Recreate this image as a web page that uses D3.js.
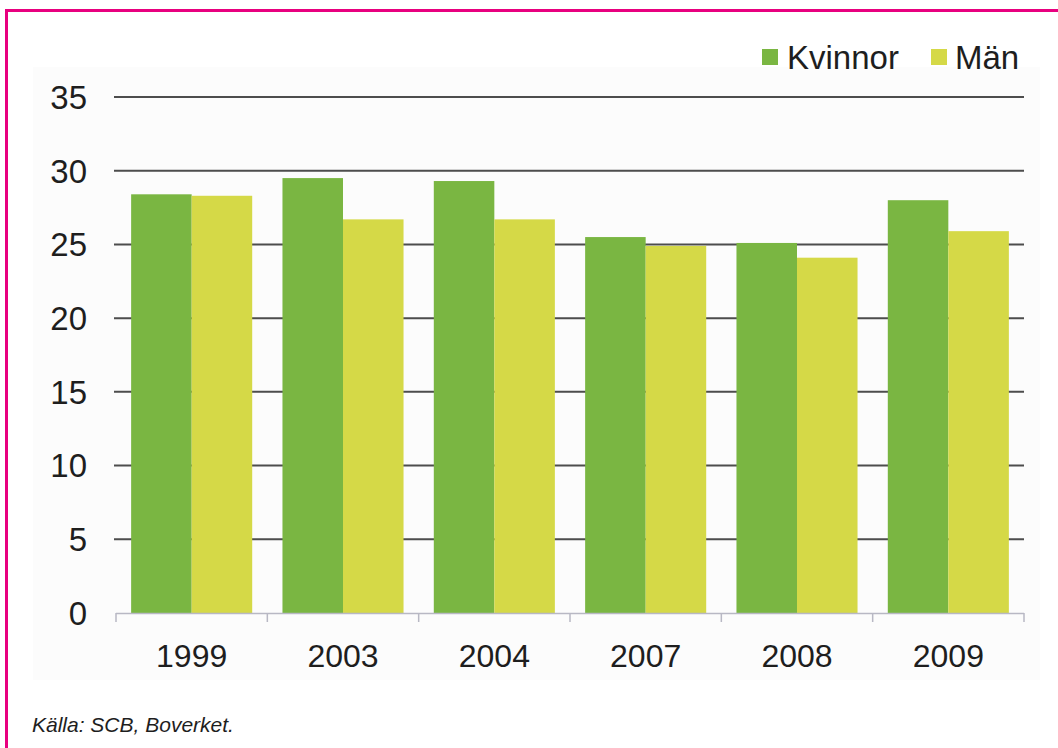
<!DOCTYPE html>
<html>
<head>
<meta charset="utf-8">
<script src="https://cdn.jsdelivr.net/npm/d3@7"></script>
<style>
  html, body { margin: 0; padding: 0; background: #ffffff; }
  svg { display: block; }
</style>
</head>
<body>
<svg id="chart" width="1058" height="748"></svg>
<script>
// Andel (%) per år, kvinnor och män
const years = ["1999", "2003", "2004", "2007", "2008", "2009"];
const kvinnor = [28.4, 29.5, 29.3, 25.5, 25.1, 28.0];
const man = [28.3, 26.7, 26.7, 24.9, 24.1, 25.9];
const seriesNames = ["Kvinnor", "Män"];
const yTicks = [0, 5, 10, 15, 20, 25, 30, 35];
const sourceText = "Källa: SCB, Boverket.";

const colors = { "Kvinnor": "#7ab642", "Män": "#d5d947" };
const font = "'Liberation Sans', Arial, sans-serif";

const svg = d3.select("#chart");

// Frame: magenta border along top and left
svg.append("line").attr("x1", 5).attr("x2", 1058).attr("y1", 10.5).attr("y2", 10.5)
  .attr("stroke", "#e8007f").attr("stroke-width", 3);
svg.append("line").attr("x1", 6.5).attr("x2", 6.5).attr("y1", 9).attr("y2", 748)
  .attr("stroke", "#e8007f").attr("stroke-width", 3);

// Faint chart panel
svg.append("rect").attr("x", 33).attr("y", 67).attr("width", 1007).attr("height", 613)
  .attr("fill", "#fcfcfc");

const plotLeft = 116, plotRight = 1024, plotTop = 97, plotBottom = 613;

const x = d3.scaleBand().domain(years).range([plotLeft, plotRight])
  .paddingInner(0.2).paddingOuter(0.1);
const xs = d3.scaleBand().domain(seriesNames).range([0, x.bandwidth()]);
const y = d3.scaleLinear().domain([0, 35]).range([plotBottom, plotTop]);

// Gridlines
svg.append("g").selectAll("line").data(yTicks.filter(d => d > 0)).join("line")
  .attr("x1", plotLeft - 2).attr("x2", plotRight)
  .attr("y1", d => y(d)).attr("y2", d => y(d))
  .attr("stroke", "#4d4d4d").attr("stroke-width", 2);

// Bars
const data = years.map((yr, i) => ({ year: yr, values: [
  { name: "Kvinnor", value: kvinnor[i] },
  { name: "Män", value: man[i] }
]}));

const groups = svg.append("g").selectAll("g").data(data).join("g")
  .attr("transform", d => `translate(${x(d.year)},0)`);
groups.selectAll("rect").data(d => d.values).join("rect")
  .attr("x", d => xs(d.name))
  .attr("width", xs.bandwidth())
  .attr("y", d => y(d.value))
  .attr("height", d => y(0) - y(d.value))
  .attr("fill", d => colors[d.name]);

// X axis baseline with category boundary ticks
const xAxisG = svg.append("g");
xAxisG.append("line").attr("x1", plotLeft).attr("x2", plotRight)
  .attr("y1", plotBottom + 0.5).attr("y2", plotBottom + 0.5)
  .attr("stroke", "#b8b8c4").attr("stroke-width", 1.5);
const boundaries = years.map(yr => x(yr) - x.step() * x.paddingInner() / 2)
  .concat([plotRight]);
boundaries[0] = plotLeft;
xAxisG.selectAll("line.tick").data(boundaries).join("line").attr("class", "tick")
  .attr("x1", d => d).attr("x2", d => d)
  .attr("y1", plotBottom).attr("y2", plotBottom + 9)
  .attr("stroke", "#b8b8c4").attr("stroke-width", 1.5);

// X labels
svg.append("g").selectAll("text").data(years).join("text")
  .attr("x", d => x(d) + x.bandwidth() / 2)
  .attr("y", 667)
  .attr("text-anchor", "middle")
  .attr("font-family", font).attr("font-size", 32)
  .attr("fill", "#1e1e1e")
  .text(d => d);

// Y labels
svg.append("g").selectAll("text").data(yTicks).join("text")
  .attr("x", 87)
  .attr("y", d => y(d))
  .attr("dy", "0.36em")
  .attr("text-anchor", "end")
  .attr("font-family", font).attr("font-size", 33)
  .attr("fill", "#1e1e1e")
  .text(d => d);

// Legend
const legendItems = [
  { name: "Kvinnor", sx: 762, tx: 787 },
  { name: "Män", sx: 931, tx: 955 }
];
const legend = svg.append("g");
legend.selectAll("rect").data(legendItems).join("rect")
  .attr("x", d => d.sx).attr("y", 49).attr("width", 16).attr("height", 16)
  .attr("fill", d => colors[d.name]);
legend.selectAll("text").data(legendItems).join("text")
  .attr("x", d => d.tx).attr("y", 69)
  .attr("font-family", font).attr("font-size", 33)
  .attr("fill", "#1e1e1e")
  .text(d => d.name);

// Source note
svg.append("text")
  .attr("x", 32).attr("y", 732)
  .attr("font-family", font).attr("font-size", 21)
  .attr("font-style", "italic")
  .attr("fill", "#1e1e1e")
  .text(sourceText);
</script>
</body>
</html>
